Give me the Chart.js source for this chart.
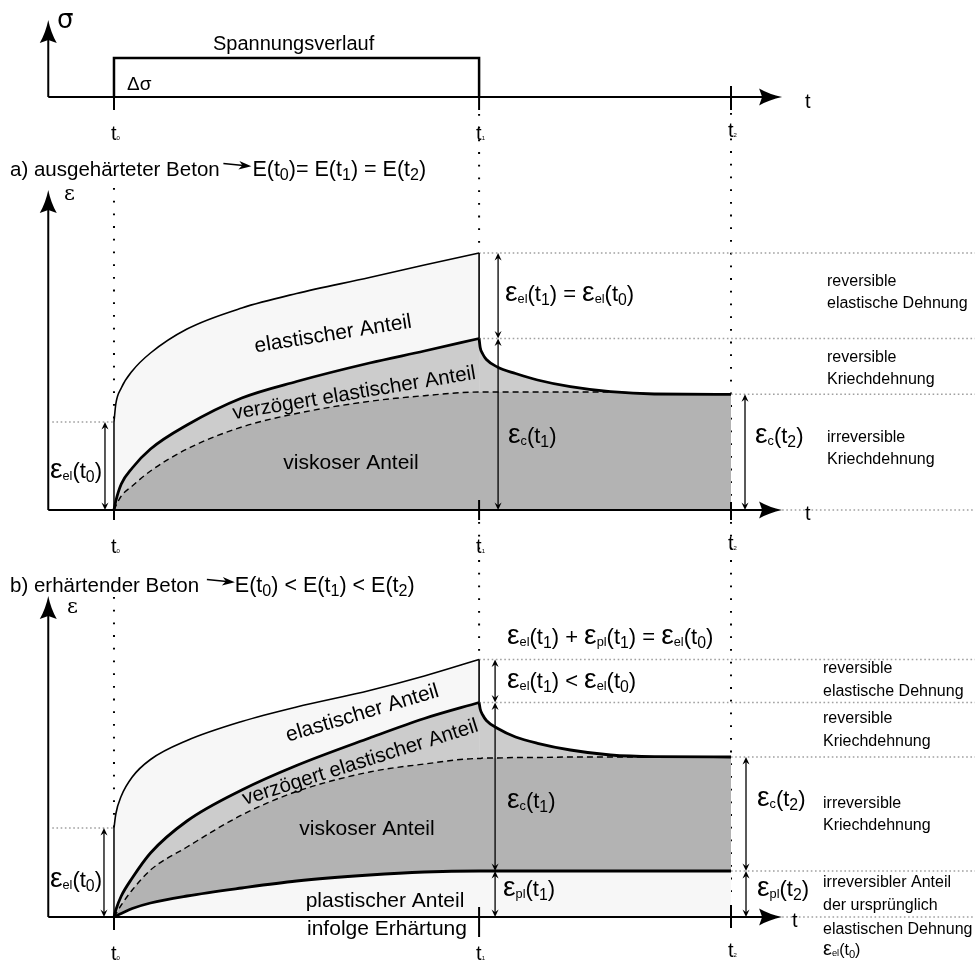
<!DOCTYPE html>
<html lang="de">
<head>
<meta charset="utf-8">
<title>Kriechdehnung</title>
<script src="https://cdn.jsdelivr.net/npm/chart.js@4.4.1/dist/chart.umd.min.js"></script>
<style>
  html, body { margin: 0; padding: 0; background: #ffffff; }
  canvas { display: block; }
</style>
</head>
<body>
<canvas id="creep-chart" width="975" height="960"></canvas>
<script>
// time in arbitrary units: t0 = 0, t1 = 100 (unloading), t2 = 169
const T_MARKS = [0, 100, 169];
const T_LABELS = ['t_{0}', 't_{1}', 't_{2}'];
const T_LOAD = [0, 0.5, 2, 5, 10, 20, 35, 50, 70, 85, 100];
const T_UNLOAD = [100, 100.3, 101, 102, 105, 110, 116, 125, 136, 148, 169];

// stress step Δσ between t0 and t1
const STRESS_T = [0, 0, 100, 100];
const STRESS_V = [0, 1, 1, 0];

// a) ausgehärteter Beton (strain, arbitrary units)
const A_TOTAL = [0.88, 1.06, 1.22, 1.39, 1.57, 1.81, 2.02, 2.165, 2.325, 2.45, 2.57];
const A_CREEP = [0, 0.09, 0.26, 0.42, 0.61, 0.85, 1.12, 1.285, 1.47, 1.59, 1.715];
const A_VISCOUS = [0, 0.04, 0.14, 0.24, 0.39, 0.61, 0.83, 0.965, 1.087, 1.143, 1.18];
const A_RECOVERY = [1.715, 1.625, 1.56, 1.505, 1.43, 1.365, 1.30, 1.233, 1.183, 1.16, 1.157];
const A_VISCOUS_REST = [1.18, 1.18, 1.18, 1.18, 1.18, 1.18, 1.18, 1.18, 1.18, 1.16, 1.157];

// b) erhärtender Beton
const B_TOTAL = [0.89, 1.03, 1.21, 1.40, 1.575, 1.765, 1.955, 2.10, 2.265, 2.41, 2.575];
const B_CREEP = [0, 0.07, 0.21, 0.39, 0.64, 0.96, 1.27, 1.515, 1.79, 1.985, 2.145];
const B_VISCOUS = [0, 0.03, 0.12, 0.27, 0.47, 0.70, 1.02, 1.255, 1.45, 1.53, 1.585];
const B_PLASTIC = [0, 0.01, 0.035, 0.085, 0.14, 0.21, 0.29, 0.36, 0.42, 0.45, 0.46];
const B_RECOVERY = [2.145, 2.08, 2.02, 1.965, 1.887, 1.80, 1.737, 1.67, 1.62, 1.603, 1.60];
const B_VISCOUS_REST = [1.585, 1.585, 1.59, 1.59, 1.59, 1.595, 1.595, 1.60, 1.60, 1.60, 1.60];
const B_PLASTIC_REST = [0.46, 0.46, 0.46, 0.46, 0.46, 0.46, 0.46, 0.46, 0.46, 0.46, 0.46];

const A_NOTES = [
  ['reversible', 'elastische Dehnung'],
  ['reversible', 'Kriechdehnung'],
  ['irreversible', 'Kriechdehnung']
];
const B_NOTES = [
  ['reversible', 'elastische Dehnung'],
  ['reversible', 'Kriechdehnung'],
  ['irreversible', 'Kriechdehnung'],
  ['irreversibler Anteil', 'der ursprünglich', 'elastischen Dehnung', 'ε_{el}(t_{0})']
];

const FONT = '"Liberation Sans", Arial, sans-serif';
const LIGHT = '#f7f7f7';
const MID = '#cccccc';
const DARK = '#b3b3b3';
const H = 960;

// axis line goes from t = -18 to the arrow tip at t = 183
const AXIS_T = [-18, 183];

function panelRange(zeroPx, pxPerUnit) {
  return { min: (zeroPx - H) / pxPerUnit, max: zeroPx / pxPerUnit };
}

const zip = (ts, vs) => ts.map((t, i) => ({ x: t, y: vs[i] }));
const last = arr => arr[arr.length - 1];
const joined = (a, b) => a.concat(b.slice(1));

const datasets = [];
let drawOrder = 100;

function area(data, yAxisID, color) {
  datasets.push({
    data, yAxisID, fill: 'origin', backgroundColor: color,
    borderColor: 'rgba(0,0,0,0)', borderWidth: 0, pointRadius: 0,
    cubicInterpolationMode: 'monotone', order: drawOrder--
  });
}

function stroke(data, yAxisID, width, dash, curved = true) {
  datasets.push({
    data, yAxisID, fill: false, borderColor: '#000', borderWidth: width,
    borderDash: dash || [], pointRadius: 0, borderCapStyle: 'butt',
    cubicInterpolationMode: curved ? 'monotone' : 'default', tension: 0,
    order: drawOrder--
  });
}

// stress panel
stroke(zip(STRESS_T, STRESS_V), 'yS', 2.5, null, false);

// panel a: fills
area(zip(T_LOAD, A_TOTAL), 'yA', LIGHT);
area(zip(T_LOAD, A_CREEP), 'yA', MID);
area(zip(T_UNLOAD, A_RECOVERY), 'yA', MID);
area(zip(joined(T_LOAD, T_UNLOAD), joined(A_VISCOUS, A_VISCOUS_REST)), 'yA', DARK);
// panel a: lines
stroke(zip(T_LOAD, A_TOTAL), 'yA', 1.6);
stroke([{ x: 0, y: 0 }, { x: 0, y: A_TOTAL[0] }], 'yA', 1.5, null, false);
stroke([{ x: 100, y: last(A_TOTAL) }, { x: 100, y: last(A_CREEP) }], 'yA', 1.6, null, false);
stroke(zip(joined(T_LOAD, T_UNLOAD), joined(A_VISCOUS, A_VISCOUS_REST)), 'yA', 1.4, [6, 4]);
stroke(zip(T_LOAD, A_CREEP), 'yA', 2.8);
stroke(zip(T_UNLOAD, A_RECOVERY), 'yA', 2.8);

// panel b: fills
area(zip(T_LOAD, B_TOTAL), 'yB', LIGHT);
area(zip(T_LOAD, B_CREEP), 'yB', MID);
area(zip(T_UNLOAD, B_RECOVERY), 'yB', MID);
area(zip(joined(T_LOAD, T_UNLOAD), joined(B_VISCOUS, B_VISCOUS_REST)), 'yB', DARK);
area(zip(joined(T_LOAD, T_UNLOAD), joined(B_PLASTIC, B_PLASTIC_REST)), 'yB', LIGHT);
// panel b: lines
stroke(zip(T_LOAD, B_TOTAL), 'yB', 1.6);
stroke([{ x: 0, y: 0 }, { x: 0, y: B_TOTAL[0] }], 'yB', 1.5, null, false);
stroke([{ x: 100, y: last(B_TOTAL) }, { x: 100, y: last(B_CREEP) }], 'yB', 1.6, null, false);
stroke(zip(joined(T_LOAD, T_UNLOAD), joined(B_VISCOUS, B_VISCOUS_REST)), 'yB', 1.4, [6, 4]);
stroke(zip(T_LOAD, B_CREEP), 'yB', 2.8);
stroke(zip(T_UNLOAD, B_RECOVERY), 'yB', 2.8);
stroke(zip(joined(T_LOAD, T_UNLOAD), joined(B_PLASTIC, B_PLASTIC_REST)), 'yB', 2.8);

// ---- drawing helpers ----
function richParts(str) {
  const parts = [];
  const re = /_\{([^}]*)\}/g;
  let pos = 0, m;
  while ((m = re.exec(str))) {
    if (m.index > pos) parts.push([str.slice(pos, m.index), 'n']);
    parts.push([m[1], /^\d+$/.test(m[1]) ? 'd' : 's']);
    pos = re.lastIndex;
  }
  if (pos < str.length) parts.push([str.slice(pos), 'n']);
  return parts;
}

function drawRich(ctx, str, x, y, opt) {
  const o = Object.assign({ size: 21, eps: 1.28, sub: 0.58, digit: 0.72, dy: 0.2, align: 'left' }, opt);
  const segs = [];
  richParts(str).forEach(([text, kind]) => {
    if (kind === 'n') {
      text.split(/(ε)/).filter(Boolean).forEach(piece => {
        segs.push({ text: piece, size: piece === 'ε' ? o.size * o.eps : o.size, dy: 0 });
      });
    } else {
      segs.push({ text, size: o.size * (kind === 'd' ? o.digit : o.sub), dy: o.size * (kind === 'd' ? o.dy : o.dy * 0.4) });
    }
  });
  let total = 0;
  segs.forEach(s => {
    ctx.font = `${s.size}px ${FONT}`;
    s.w = ctx.measureText(s.text).width;
    total += s.w;
  });
  let cx = o.align === 'right' ? x - total : o.align === 'center' ? x - total / 2 : x;
  ctx.textAlign = 'left';
  ctx.textBaseline = 'alphabetic';
  segs.forEach(s => {
    ctx.font = `${s.size}px ${FONT}`;
    ctx.fillText(s.text, cx, y + s.dy);
    cx += s.w;
  });
  return total;
}

function line(ctx, x1, y1, x2, y2, width) {
  ctx.lineWidth = width;
  ctx.beginPath();
  ctx.moveTo(x1, y1);
  ctx.lineTo(x2, y2);
  ctx.stroke();
}

function dotted(ctx, x1, y1, x2, y2, color, width, dash) {
  ctx.save();
  ctx.strokeStyle = color;
  ctx.setLineDash(dash);
  line(ctx, x1, y1, x2, y2, width);
  ctx.restore();
}

function bigHead(ctx, x, y, dir) {
  const L = 23, W = 8.5, N = 3;
  ctx.save();
  ctx.translate(x, y);
  if (dir === 'up') ctx.rotate(-Math.PI / 2);
  ctx.beginPath();
  ctx.moveTo(0, 0);
  ctx.quadraticCurveTo(-L * 0.55, -W * 0.3, -L, -W);
  ctx.lineTo(-L + N, 0);
  ctx.lineTo(-L, W);
  ctx.quadraticCurveTo(-L * 0.55, W * 0.3, 0, 0);
  ctx.fill();
  ctx.restore();
}

function smallHead(ctx, x, y, dir) {
  // dir -1: pointing up, +1: pointing down; tip at (x, y)
  const L = 7.5, W = 3.5;
  ctx.beginPath();
  ctx.moveTo(x, y);
  ctx.lineTo(x - W, y - dir * L);
  ctx.lineTo(x, y - dir * L * 0.65);
  ctx.lineTo(x + W, y - dir * L);
  ctx.closePath();
  ctx.fill();
}

function dimArrow(ctx, x, ya, yb) {
  const top = Math.min(ya, yb), bot = Math.max(ya, yb);
  line(ctx, x, top + 3, x, bot - 3, 1.3);
  smallHead(ctx, x, top, -1);
  smallHead(ctx, x, bot, 1);
}

function rotated(ctx, text, x, y, deg, size) {
  ctx.save();
  ctx.translate(x, y);
  ctx.rotate(deg * Math.PI / 180);
  ctx.font = `${size}px ${FONT}`;
  ctx.textAlign = 'center';
  ctx.textBaseline = 'alphabetic';
  ctx.fillText(text, 0, 0);
  ctx.restore();
}

function titleArrow(ctx, x, baseline) {
  line(ctx, x, baseline - 12.5, x + 20, baseline - 10.5, 1.4);
  ctx.beginPath();
  ctx.moveTo(x + 28, baseline - 9.7);
  ctx.lineTo(x + 16, baseline - 15);
  ctx.lineTo(x + 19, baseline - 10.8);
  ctx.lineTo(x + 15, baseline - 6.5);
  ctx.closePath();
  ctx.fill();
}

function notes(ctx, list, x, baselines) {
  let k = 0;
  list.forEach(group => group.forEach(text => {
    drawRich(ctx, text, x, baselines[k++], { size: 16, eps: 1.25, digit: 0.7 });
  }));
}

const annotations = {
  id: 'annotations',
  beforeDatasetsDraw(chart) {
    const { ctx } = chart;
    const X = t => chart.scales.x.getPixelForValue(t);
    const YA = v => chart.scales.yA.getPixelForValue(v);
    const YB = v => chart.scales.yB.getPixelForValue(v);
    const [t0, t1, t2] = T_MARKS.map(X);
    const W = chart.width;
    const dots = [1.8, 10.9];
    // vertical guides
    dotted(ctx, t0, 188, t0, YA(A_TOTAL[0]), '#000', 2, dots);
    dotted(ctx, t0, YB(0) - 320, t0, YB(B_TOTAL[0]), '#000', 2, dots);
    dotted(ctx, t1, 114, t1, YA(last(A_TOTAL)), '#000', 2, dots);
    dotted(ctx, t1, YA(0) + 12, t1, YB(last(B_TOTAL)), '#000', 2, dots);
    dotted(ctx, t2, 113, t2, YA(0) - 6, '#000', 2, dots);
    dotted(ctx, t2, YA(0) + 12, t2, YB(0) - 14, '#000', 2, dots);
    // grey level lines
    const grey = ['#a0a0a0', 1.6, [1.6, 2.6]];
    [last(A_TOTAL), last(A_CREEP)].forEach(v => dotted(ctx, t1, YA(v), W, YA(v), ...grey));
    dotted(ctx, t2, YA(last(A_RECOVERY)), W, YA(last(A_RECOVERY)), ...grey);
    dotted(ctx, X(AXIS_T[1]), YA(0), W, YA(0), ...grey);
    dotted(ctx, X(AXIS_T[0]) + 4, YA(A_TOTAL[0]), t0, YA(A_TOTAL[0]), ...grey);
    [last(B_TOTAL), last(B_CREEP)].forEach(v => dotted(ctx, t1, YB(v), W, YB(v), ...grey));
    [last(B_RECOVERY), last(B_PLASTIC_REST)].forEach(v => dotted(ctx, t2, YB(v), W, YB(v), ...grey));
    dotted(ctx, X(AXIS_T[1]), YB(0), W, YB(0), ...grey);
    dotted(ctx, X(AXIS_T[0]) + 4, YB(B_TOTAL[0]), t0, YB(B_TOTAL[0]), ...grey);
  },
  afterDatasetsDraw(chart) {
    const { ctx } = chart;
    const X = t => chart.scales.x.getPixelForValue(t);
    const YS = v => chart.scales.yS.getPixelForValue(v);
    const YA = v => chart.scales.yA.getPixelForValue(v);
    const YB = v => chart.scales.yB.getPixelForValue(v);
    const [t0, t1, t2] = T_MARKS.map(X);
    const xs = X(AXIS_T[0]), xe = X(AXIS_T[1]);
    ctx.save();
    ctx.strokeStyle = '#000';
    ctx.fillStyle = '#000';

    // axes with arrows
    [[YS(0), 77], [YA(0), 320], [YB(0), 321]].forEach(([y0, up]) => {
      line(ctx, xs, y0, xe - 10, y0, 2);
      bigHead(ctx, xe, y0, 'right');
      line(ctx, xs, y0, xs, y0 - up + 10, 2);
      bigHead(ctx, xs, y0 - up, 'up');
    });

    // ticks
    const ys = YS(0), ya = YA(0), yb = YB(0);
    line(ctx, t0, ys, t0, ys + 13, 2);
    line(ctx, t1, ys, t1, ys + 13, 2);
    line(ctx, t2, ys - 11, t2, ys + 13, 2);
    line(ctx, t0, ya, t0, ya + 10, 2);
    line(ctx, t1, ya - 10, t1, ya + 10, 2);
    line(ctx, t2, ya - 8, t2, ya + 10, 2);
    line(ctx, t0, yb, t0, yb + 13, 2);
    line(ctx, t1, yb - 10, t1, yb + 20, 2);
    line(ctx, t2, yb - 12, t2, yb + 11, 2);

    // tick labels
    [ys + 43, ya + 43, yb + 43].forEach(base => {
      [t0, t1, t2].forEach((x, i) => {
        drawRich(ctx, T_LABELS[i], x - 3, base - (i === 2 ? 3 : 0), { size: 20, digit: 0.3, dy: 0 });
      });
    });

    // axis names
    ctx.font = `20px ${FONT}`;
    ctx.textAlign = 'left';
    ctx.fillText('t', 805, ys + 11);
    ctx.fillText('t', 805, ya + 10);
    ctx.fillText('t', 792, yb + 10);
    ctx.font = '26px "DejaVu Sans", sans-serif';
    ctx.fillText('σ', 57, 28);
    ctx.font = '21px "DejaVu Serif", serif';
    ctx.fillText('ε', 64, ya - 310);
    ctx.fillText('ε', 67, yb - 304);

    // stress panel texts
    ctx.font = `20px ${FONT}`;
    ctx.fillText('Spannungsverlauf', 213, 50);
    ctx.font = `19px ${FONT}`;
    ctx.fillText('Δσ', 127, 90);

    // titles
    let w = drawRich(ctx, 'a) ausgehärteter Beton ', 10, 176, { size: 20.5 });
    titleArrow(ctx, 8 + w, 176);
    drawRich(ctx, 'E(t_{0})= E(t_{1}) = E(t_{2})', 8 + w + 29, 176, { size: 21.5, digit: 0.75 });
    w = drawRich(ctx, 'b) erhärtender Beton ', 10, 592, { size: 20.5 });
    titleArrow(ctx, 10 + w + 2, 592);
    drawRich(ctx, 'E(t_{0}) < E(t_{1}) < E(t_{2})', 10 + w + 30, 592, { size: 21.5, digit: 0.75 });

    // panel a dimension arrows
    dimArrow(ctx, t0 - 9, YA(A_TOTAL[0]), YA(0));
    dimArrow(ctx, t1 + 19, YA(last(A_TOTAL)), YA(last(A_CREEP)));
    dimArrow(ctx, t1 + 19, YA(last(A_CREEP)), YA(0));
    dimArrow(ctx, t2 + 14, YA(last(A_RECOVERY)), YA(0));
    const eps = { size: 22 };
    drawRich(ctx, 'ε_{el}(t_{0})', 102, 478, { size: 22, align: 'right' });
    drawRich(ctx, 'ε_{el}(t_{1}) = ε_{el}(t_{0})', 505, 301, eps);
    drawRich(ctx, 'ε_{c}(t_{1})', 508, 443, eps);
    drawRich(ctx, 'ε_{c}(t_{2})', 755, 443, eps);

    // panel b dimension arrows
    dimArrow(ctx, t0 - 10, YB(B_TOTAL[0]), YB(0));
    dimArrow(ctx, t1 + 16, YB(last(B_TOTAL)), YB(last(B_CREEP)));
    dimArrow(ctx, t1 + 16, YB(last(B_CREEP)), YB(last(B_PLASTIC)));
    dimArrow(ctx, t1 + 16, YB(last(B_PLASTIC)), YB(0));
    dimArrow(ctx, t2 + 15, YB(last(B_RECOVERY)), YB(last(B_PLASTIC_REST)));
    dimArrow(ctx, t2 + 15, YB(last(B_PLASTIC_REST)), YB(0));
    drawRich(ctx, 'ε_{el}(t_{0})', 102, 887, { size: 22, align: 'right' });
    drawRich(ctx, 'ε_{el}(t_{1}) + ε_{pl}(t_{1}) = ε_{el}(t_{0})', 507, 644, eps);
    drawRich(ctx, 'ε_{el}(t_{1}) < ε_{el}(t_{0})', 507, 688, eps);
    drawRich(ctx, 'ε_{c}(t_{1})', 507, 808, eps);
    drawRich(ctx, 'ε_{pl}(t_{1})', 503, 896, eps);
    drawRich(ctx, 'ε_{c}(t_{2})', 757, 806, eps);
    drawRich(ctx, 'ε_{pl}(t_{2})', 757, 896, eps);

    // area labels
    rotated(ctx, 'elastischer Anteil', 334, 340, -9, 21);
    rotated(ctx, 'verzögert elastischer Anteil', 355, 399, -9.5, 20.5);
    rotated(ctx, 'viskoser Anteil', 351, 469, 0, 21);
    rotated(ctx, 'elastischer Anteil', 364, 719, -16.6, 21);
    rotated(ctx, 'verzögert elastischer Anteil', 362, 768, -17.5, 20.5);
    rotated(ctx, 'viskoser Anteil', 367, 835, 0, 21);
    rotated(ctx, 'plastischer Anteil', 385, 907, 0, 21);
    rotated(ctx, 'infolge Erhärtung', 387, 935, 0, 21);

    // side notes
    notes(ctx, A_NOTES, 827, [286, 308, 362, 384, 442, 464]);
    notes(ctx, B_NOTES, 823, [673, 696, 723, 746, 808, 830, 887, 910, 934, 955]);

    ctx.restore();
  }
};

new Chart(document.getElementById('creep-chart'), {
  type: 'line',
  data: { datasets },
  options: {
    responsive: false,
    devicePixelRatio: 1,
    animation: false,
    events: [],
    layout: { padding: 0 },
    plugins: { legend: { display: false }, tooltip: { enabled: false } },
    elements: { point: { radius: 0 } },
    scales: {
      x: { type: 'linear', min: -31.22, max: 235.83, display: false },
      yS: Object.assign({ type: 'linear', display: false }, panelRange(97, 39)),
      yA: Object.assign({ type: 'linear', display: false }, panelRange(510, 100)),
      yB: Object.assign({ type: 'linear', display: false }, panelRange(917, 100))
    }
  },
  plugins: [annotations]
});
</script>
</body>
</html>
